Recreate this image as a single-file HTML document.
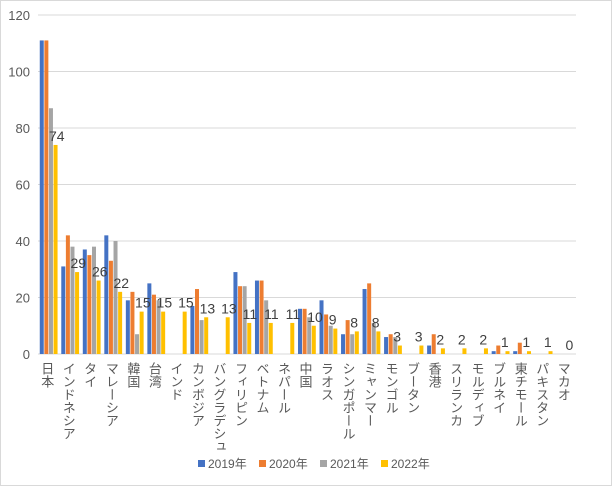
<!DOCTYPE html>
<html><head><meta charset="utf-8"><style>
body{margin:0;background:#fff}
svg text{font-family:"Liberation Sans","Noto Sans CJK JP",sans-serif}
</style></head><body>
<svg id="c" width="612" height="486" xmlns="http://www.w3.org/2000/svg">
<rect x="0.5" y="0.5" width="611" height="485" fill="#fff" stroke="#d9d9d9"/>
<g id="grid"></g><g id="bars"></g><g id="labels"></g>
</svg>
<script>
const categories=["日本","インドネシア","タイ","マレーシア","韓国","台湾","インド","カンボジア","バングラデシュ","フィリピン","ベトナム","ネパール","中国","ラオス","シンガポール","ミャンマー","モンゴル","ブータン","香港","スリランカ","モルディブ","ブルネイ","東チモール","パキスタン","マカオ"];
const s2019=[111,31,37,42,19,25,0,17,0,29,26,0,16,19,7,23,6,0,3,0,0,1,1,0,0];
const s2020=[111,42,35,33,22,21,0,23,0,24,26,0,16,14,12,25,7,0,7,0,0,3,4,0,0];
const s2021=[87,38,38,40,7,19,0,12,0,24,19,0,13,10,7,11,6,0,0,0,0,0,0,0,0];
const s2022=[74,29,26,22,15,15,15,13,13,11,11,11,10,9,8,8,3,3,2,2,2,1,1,1,0];
const yTicks=[0,20,40,60,80,100,120];
const seriesNames=["2019年","2020年","2021年","2022年"];
const colors=["#4472c4","#ed7d31","#a5a5a5","#ffc000"];
const NS="http://www.w3.org/2000/svg";
const X0=38,X1=576,Y0=354,Y1=15;
const y=v=>Y0-(v/120)*(Y0-Y1);
const bw=(X1-X0)/categories.length;
const x=i=>X0+i*bw;
function mk(t,a,p){const e=document.createElementNS(NS,t);for(const k in a)e.setAttribute(k,a[k]);p.appendChild(e);return e;}
const grid=document.getElementById('grid'),bars=document.getElementById('bars'),labels=document.getElementById('labels');
yTicks.forEach(v=>{
 const l=mk('line',{x1:X0,x2:X1,y1:y(v),y2:y(v),stroke:'#d9d9d9'},grid);
 
 
 const t=mk('text',{x:30,y:y(v)+5,'text-anchor':'end','font-size':13,fill:'#595959'},grid);
 t.textContent=v;
 
 
});
const series=[s2019,s2020,s2021,s2022];
const w=4;
categories.forEach((c,i)=>{
 const start=x(i)+bw/2-2*w-1;
 series.forEach((s,k)=>{
  const v=s[i];
  if(v>0){
   const r=mk('rect',{x:start+k*(w+0.6),y:y(v),width:w,height:Y0-y(v),fill:colors[k]},bars);
   
   
  }
 });
 const lt=mk('text',{x:start+2*(w+0.6),y:y(s2022[i])-4,'font-size':14,fill:'#404040'},labels);
 lt.textContent=s2022[i];
 
 
 const ct=mk('text',{x:x(i)+bw/2-2,y:362,'font-size':13,fill:'#595959','writing-mode':'vertical-rl',style:'writing-mode:vertical-rl;glyph-orientation-vertical:0'},labels);
 ct.textContent=c;
 
 
});
mk('line',{x1:X0,x2:X1,y1:Y0,y2:Y0,stroke:'#d9d9d9'},grid);
const lg=mk('g',{},document.getElementById('c'));


seriesNames.forEach((n,k)=>{
 const lx=198+k*61;
 const r=mk('rect',{x:lx,y:460,width:7,height:7,fill:colors[k]},lg);
 
 
 const t=mk('text',{x:lx+10,y:468,'font-size':12,fill:'#595959'},lg);
 t.textContent=n;
 
 
});
</script>
</body></html>
